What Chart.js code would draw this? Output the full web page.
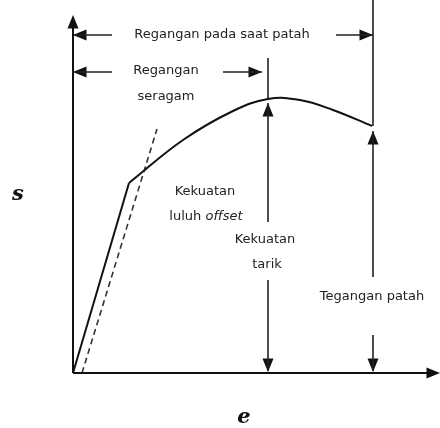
<!DOCTYPE html>
<html>
<head>
<meta charset="utf-8">
<script src="https://cdn.jsdelivr.net/npm/chart.js@4"></script>
<style>
html,body{margin:0;padding:0;background:#fff;}
canvas{display:block;}
</style>
</head>
<body>
<canvas id="c" width="440" height="428"></canvas>
<script>
// ---- data (strain e, stress s in diagram units) ----
const elasticStrain = [0, 56];
const elasticStress = [0, 190];
const plasticStrain = [56, 110, 160, 195, 227, 260, 299];
const plasticStress = [190, 233, 262, 274, 273, 263, 247];
const offsetStrain = [9, 84];
const offsetStress = [0, 244];
const axisMaxStrain = 367;
const axisMaxStress = 358;
const uniformStrain = 195;   // strain at ultimate strength
const fractureStrain = 300;  // strain at fracture
const ultimateStress = 274;
const fractureStress = 247;
const dimLevelFracture = 338;
const dimLevelUniform = 301;

// guide segments [x1,y1,x2,y2]
const guideSegments = [
  [0, dimLevelFracture, 39, dimLevelFracture],
  [263, dimLevelFracture, fractureStrain, dimLevelFracture],
  [0, dimLevelUniform, 39, dimLevelUniform],
  [150, dimLevelUniform, 189, dimLevelUniform],
  [uniformStrain, 315, uniformStrain, ultimateStress],
  [uniformStrain, 270, uniformStrain, 151],
  [uniformStrain, 93, uniformStrain, 2],
  [fractureStrain, 373, fractureStrain, fractureStress],
  [fractureStrain, 242, fractureStrain, 96],
  [fractureStrain, 38, fractureStrain, 2]
];
// arrow tips [x, y, direction deg (0 up, 90 right, 180 down, 270 left)]
const arrowTips = [
  [0, axisMaxStress, 0],
  [axisMaxStrain, 0, 90],
  [0, dimLevelFracture, 270],
  [fractureStrain, dimLevelFracture, 90],
  [0, dimLevelUniform, 270],
  [189, dimLevelUniform, 90],
  [uniformStrain, 270, 0],
  [uniformStrain, 1, 180],
  [fractureStrain, 242, 0],
  [fractureStrain, 1, 180]
];
// text labels [text parts, x, y]
const labelTexts = [
  [["Regangan pada saat patah"], 149, 338],
  [["Regangan"], 93, 302],
  [["seragam"], 93, 276],
  [["Kekuatan"], 132, 181],
  [["luluh ", "offset"], 133, 156],
  [["Kekuatan"], 192, 133],
  [["tarik"], 194, 108],
  [["Tegangan patah"], 299, 76]
];
const axisLabelS = ["s", -55, 178];
const axisLabelE = ["e", 171, -45];

// ---- arrowhead image: tip at centre, pointing up ----
const arrowImg = document.createElement('canvas');
arrowImg.width = 30; arrowImg.height = 30;
(function(){
  const g = arrowImg.getContext('2d');
  g.fillStyle = '#111';
  g.beginPath();
  g.moveTo(15, 15);
  g.lineTo(9.5, 28.5);
  g.lineTo(20.5, 28.5);
  g.closePath();
  g.fill();
})();

const zip = (xs, ys) => xs.map((x, i) => ({x: x, y: ys[i]}));
const datasets = [];
// axes
datasets.push({data: [{x:0,y:0},{x:0,y:axisMaxStress - 6}], showLine:true, borderColor:'#111', borderWidth:2, pointRadius:0, clip:false});
datasets.push({data: [{x:0,y:0},{x:axisMaxStrain - 6,y:0}], showLine:true, borderColor:'#111', borderWidth:2, pointRadius:0, clip:false});
// curve
datasets.push({data: zip(elasticStrain, elasticStress), showLine:true, borderColor:'#111', borderWidth:2, pointRadius:0, clip:false});
datasets.push({data: zip(plasticStrain, plasticStress), showLine:true, tension:0.4, borderColor:'#111', borderWidth:2, pointRadius:0, clip:false});
// offset line
datasets.push({data: zip(offsetStrain, offsetStress), showLine:true, borderColor:'#333', borderWidth:1.6, borderDash:[6,4], pointRadius:0, clip:false});
// guides
guideSegments.forEach(s => {
  datasets.push({data: [{x:s[0],y:s[1]},{x:s[2],y:s[3]}], showLine:true, borderColor:'#222', borderWidth:1.6, pointRadius:0, clip:false});
});
// arrowheads
datasets.push({
  data: arrowTips.map(a => ({x:a[0], y:a[1]})),
  showLine:false,
  pointStyle: arrowImg,
  pointRotation: arrowTips.map(a => a[2]),
  pointRadius: 5,
  clip:false
});

const textPlugin = {
  id: 'texts',
  afterDatasetsDraw(chart) {
    const ctx = chart.ctx, xs = chart.scales.x, ys = chart.scales.y;
    ctx.save();
    ctx.fillStyle = '#222';
    ctx.textBaseline = 'middle';
    ctx.textAlign = 'left';
    labelTexts.forEach(l => {
      const parts = l[0];
      const fonts = parts.map((p, i) => i === 1 ? 'italic 13px "DejaVu Sans"' : '13px "DejaVu Sans"');
      let widths = parts.map((p, i) => { ctx.font = fonts[i]; return ctx.measureText(p).width; });
      const total = widths.reduce((a, b) => a + b, 0);
      let x = xs.getPixelForValue(l[1]) - total / 2;
      const y = ys.getPixelForValue(l[2]);
      parts.forEach((p, i) => { ctx.font = fonts[i]; ctx.fillText(p, x, y); x += widths[i]; });
    });
    ctx.textAlign = 'center';
    ctx.fillStyle = '#111';
    ctx.font = 'italic bold 21px "DejaVu Serif"';
    [axisLabelS, axisLabelE].forEach(l => {
      ctx.fillText(l[0], xs.getPixelForValue(l[1]), ys.getPixelForValue(l[2]));
    });
    ctx.restore();
  }
};

new Chart(document.getElementById('c'), {
  type: 'scatter',
  data: { datasets: datasets },
  options: {
    responsive: false,
    animation: false,
    events: [],
    layout: { autoPadding: false, padding: { left: 73, right: 0, top: 0, bottom: 55 } },
    plugins: { legend: { display: false }, tooltip: { enabled: false } },
    scales: {
      x: { type: 'linear', min: 0, max: axisMaxStrain, display: false },
      y: { type: 'linear', min: 0, max: 373, display: false }
    }
  },
  plugins: [textPlugin]
});
</script>
</body>
</html>
